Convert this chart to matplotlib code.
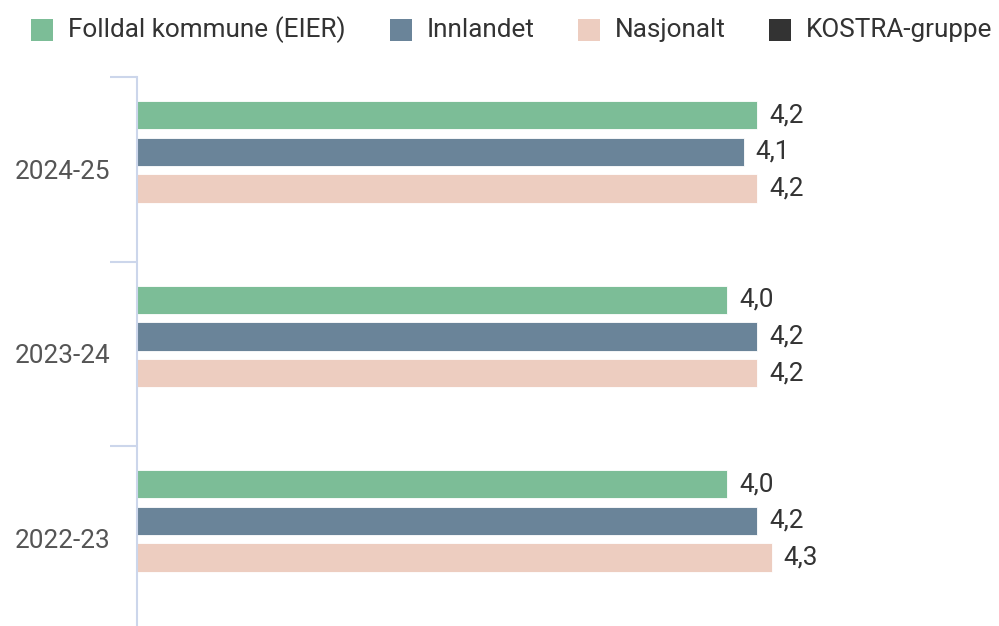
import matplotlib.pyplot as plt
from matplotlib.patches import Rectangle
import numpy as np

plt.rcParams['font.family'] = ['Roboto', 'DejaVu Sans']

# Data
periods = ["2024-25", "2023-24", "2022-23"]
series_names = ["Folldal kommune (EIER)", "Innlandet", "Nasjonalt", "KOSTRA-gruppe"]
folldal = [4.2, 4.0, 4.0]
innlandet = [4.11, 4.2, 4.2]
nasjonalt = [4.2, 4.2, 4.3]
kostra = [None, None, None]
folldal_labels = ["4,2", "4,0", "4,0"]
innlandet_labels = ["4,1", "4,2", "4,2"]
nasjonalt_labels = ["4,2", "4,2", "4,3"]
colors = ["#7cbd97", "#6a8499", "#edcdc0", "#333333"]

W, H = 999, 626
fig = plt.figure(figsize=(W / 100, H / 100), dpi=100)

# axes: left edge at x=137px, group boundaries start at y=77px, 184.5px per group
px_unit = 147.6
ax = fig.add_axes([137 / W, (H - 77 - 3 * 184.5) / H, (W - 137) / W, 3 * 184.5 / H])
ax.set_xlim(0, (W - 137) / px_unit)
ax.set_ylim(2.5, -0.5)

fs = 18.8
y = np.arange(len(periods))
slot = 0.198
shift = 0.0054
bar_h = 0.152
all_vals = [folldal, innlandet, nasjonalt, kostra]
all_labels = [folldal_labels, innlandet_labels, nasjonalt_labels, [None] * 3]
for i, (vals, labs) in enumerate(zip(all_vals, all_labels)):
    off = (i - 1.5) * slot + shift
    for j, v in enumerate(vals):
        if v is None:
            continue
        ax.barh(y[j] + off, v, height=bar_h, color=colors[i], edgecolor="white", linewidth=0.6)
        ax.annotate(labs[j], (v, y[j] + off), xytext=(12, 0), textcoords="offset pixels",
                    va="center", ha="left", fontsize=fs, color="#333333")

for s in ["top", "right", "bottom"]:
    ax.spines[s].set_visible(False)
ax.spines["left"].set_color("#ccd6eb")
ax.spines["left"].set_linewidth(1.5)
ax.set_xticks([])
ax.set_yticks(y)
ax.set_yticklabels(periods, fontsize=fs, color="#555555")
ax.tick_params(axis="y", which="major", length=0, pad=19)
ax.set_yticks([-0.5, 0.5, 1.5, 2.5], minor=True)
ax.tick_params(axis="y", which="minor", length=19.5, width=1.5, color="#ccd6eb")

# legend
leg_x = [31, 390, 578, 769]
for name, c, lx in zip(series_names, colors, leg_x):
    fig.patches.append(Rectangle((lx / W, (H - 41) / H), 22 / W, 22 / H,
                                 transform=fig.transFigure, facecolor=c, edgecolor="none"))
    fig.text((lx + 37) / W, (H - 30) / H, name, fontsize=fs, color="#333333", va="center", ha="left")

fig.savefig("out.png", dpi=100)
